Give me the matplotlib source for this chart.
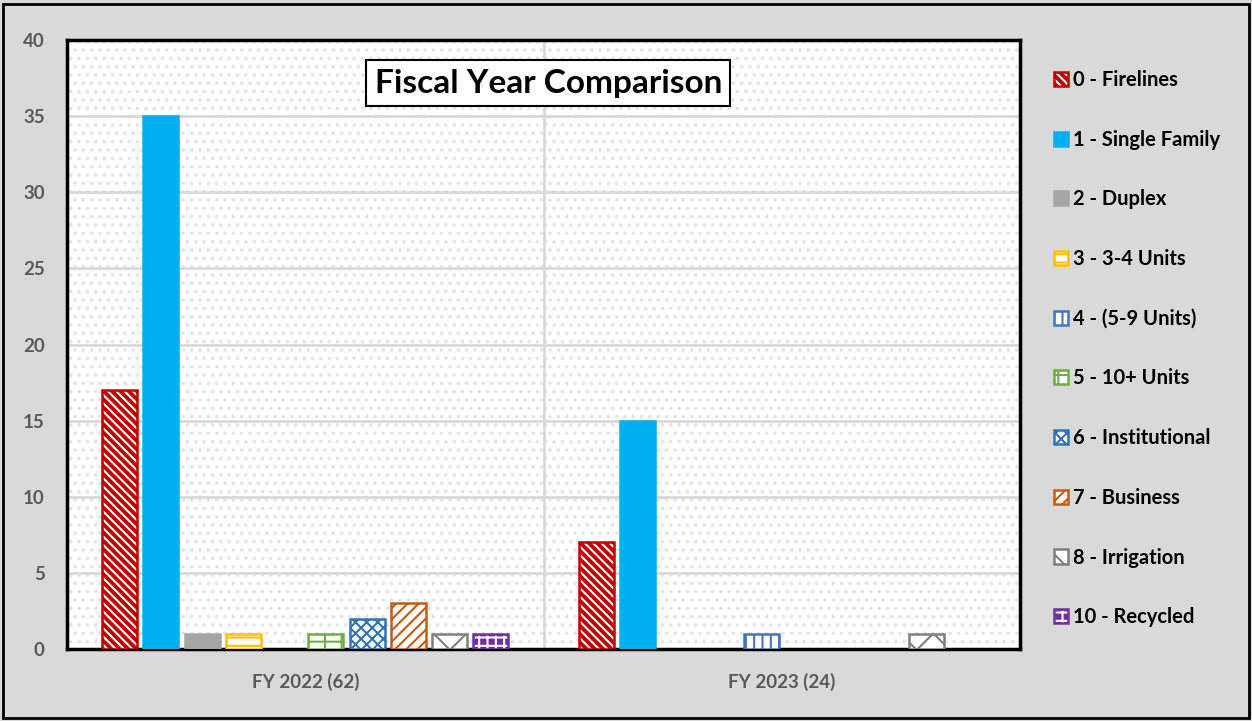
import matplotlib.pyplot as plt
from matplotlib.patches import Rectangle
import numpy as np

## Fiscal year comparison of permits by category, drawn as grouped bars

years = ['FY 2022 (62)', 'FY 2023 (24)']
categories = ['0 - Firelines', '1 - Single Family', '2 - Duplex', '3 - 3-4 Units',
              '4 - (5-9 Units)', '5 - 10+ Units', '6 - Institutional', '7 - Business',
              '8 - Irrigation', '10 - Recycled']
fy2022 = [17, 35, 1, 1, 0, 1, 2, 3, 1, 1]
fy2023 = [7, 15, 0, 0, 1, 0, 0, 0, 1, 0]

# face colour, hatch colour, hatch, edge colour for each category
styles = [
    ('#c00000', 'white', '\\\\\\\\', '#c00000'),
    ('#00b0f0', '#00b0f0', '', '#00b0f0'),
    ('#a5a5a5', '#a5a5a5', '', '#a5a5a5'),
    ('white', '#ffc000', '--', '#ffc000'),
    ('white', '#4472c4', '||', '#4472c4'),
    ('white', '#70ad47', '+', '#70ad47'),
    ('white', '#2e75b6', 'xxx', '#2e75b6'),
    ('white', '#c55a11', '///', '#c55a11'),
    ('white', '#7f7f7f', 'x', '#7f7f7f'),
    ('#7030a0', 'white', '++', '#7030a0'),
]

plt.rcParams['font.family'] = ['Lato', 'DejaVu Sans']
plt.rcParams['hatch.linewidth'] = 1.5

fig = plt.figure(figsize=(12.52, 7.21), dpi=100, facecolor='#d9d9d9')
ax = fig.add_axes([67 / 1252, 72 / 721, 953 / 1252, 609 / 721])

# dotted background of the plot area
ax.add_patch(Rectangle((0, 0), 1, 1, transform=ax.transAxes, facecolor='white',
                       edgecolor='#e6e6e6', hatch='..', lw=0, zorder=0))

x = np.arange(len(years))
slot = 0.0866
width = 0.0735
values = np.array([fy2022, fy2023])
handles = []
for i, cat in enumerate(categories):
    face, hcol, hatch, edge = styles[i]
    pos = x + (i - 4.5) * slot
    vals = values[:, i]
    keep = vals > 0
    ax.bar(pos[keep], vals[keep], width, color=face, edgecolor=hcol, hatch=hatch,
           lw=0, zorder=3)
    ax.bar(pos[keep], vals[keep], width, fill=False, edgecolor=edge, lw=1.8, zorder=4)
    # legend swatch
    h1 = Rectangle((0, 0), 1, 1, facecolor=face, edgecolor=hcol, hatch=hatch, lw=0)
    h2 = Rectangle((0, 0), 1, 1, fill=False, edgecolor=edge, lw=1.8)
    handles.append((h1, h2))

ax.set_xlim(-0.5, 1.5)
ax.set_ylim(0, 40)
ax.set_yticks(range(0, 41, 5))
ax.set_xticks(x)
ax.set_xticklabels(years)
ax.set_facecolor('white')
for y in range(5, 40, 5):
    ax.axhline(y, color='#d9d9d9', lw=2, zorder=1)
ax.axvline(0.5, color='#d9d9d9', lw=2, zorder=1)
ax.tick_params(axis='y', length=0, pad=16, labelsize=13.5, labelcolor='#595959')
ax.tick_params(axis='x', length=0, pad=17, labelsize=13.5, labelcolor='#595959')
for lab in ax.get_yticklabels() + ax.get_xticklabels():
    lab.set_fontweight('bold')
for s in ax.spines.values():
    s.set_linewidth(2.5)
    s.set_color('black')

ax.text(0.505, 0.929, 'Fiscal Year Comparison', transform=ax.transAxes, ha='center',
        va='center', fontsize=24, fontweight='bold', zorder=6,
        bbox=dict(boxstyle='square,pad=0.25', facecolor='white', edgecolor='black', lw=1.5))

leg = fig.legend(handles, categories, loc='upper left',
                 bbox_to_anchor=(1036 / 1252, 1 - 52 / 721), frameon=False,
                 prop={'weight': 'bold', 'size': 14.5}, handlelength=0.7,
                 handleheight=0.7, handletextpad=0.25, labelspacing=1.97)

fig.patches.append(Rectangle((0.002, 0.004), 0.996, 0.99, transform=fig.transFigure,
                             fill=False, edgecolor='black', lw=2))

fig.savefig('out.png', dpi=100, facecolor=fig.get_facecolor())
